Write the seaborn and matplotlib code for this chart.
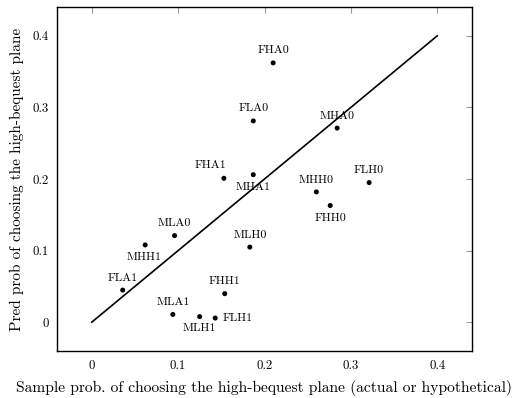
import matplotlib
matplotlib.use("Agg")
import matplotlib.pyplot as plt
import seaborn as sns
import pandas as pd

labels = ["FHA0", "FLA0", "MHA0", "FHA1", "MHA1", "MHH0", "FHH0", "FLH0",
          "MLH0", "MLA0", "MHH1", "FLA1", "FHH1", "MLA1", "MLH1", "FLH1"]
sample_prob = [0.210, 0.187, 0.284, 0.153, 0.187, 0.260, 0.276, 0.321,
               0.183, 0.096, 0.062, 0.036, 0.154, 0.094, 0.125, 0.143]
pred_prob = [0.362, 0.281, 0.271, 0.201, 0.206, 0.182, 0.163, 0.195,
             0.105, 0.121, 0.108, 0.045, 0.040, 0.011, 0.008, 0.006]
diag_x = [0.0, 0.4]
diag_y = [0.0, 0.4]
ticks = [0, 0.1, 0.2, 0.3, 0.4]
tick_labels = ["0", "0.1", "0.2", "0.3", "0.4"]

# label placement (offset in pixels, alignment)
placement = {
    "FHA0": (0, 13, "center"), "FLA0": (0, 13, "center"), "MHA0": (0, 12, "center"),
    "FHA1": (-13, 13, "center"), "MHA1": (0, -13, "center"), "MHH0": (0, 12, "center"),
    "FHH0": (0, -13, "center"), "FLH0": (0, 12, "center"), "MLH0": (0, 12, "center"),
    "MLA0": (0, 12, "center"), "MHH1": (-1, -12, "center"), "FLA1": (0, 12, "center"),
    "FHH1": (0, 12, "center"), "MLA1": (0, 12, "center"), "MLH1": (0, -12, "center"),
    "FLH1": (7, 0, "left"),
}

sns.set_style("white")
plt.rcParams["font.family"] = ["cmr10", "DejaVu Serif"]
plt.rcParams["axes.formatter.use_mathtext"] = True
plt.rcParams["mathtext.fontset"] = "cm"
plt.rcParams["text.color"] = "black"
plt.rcParams["axes.labelcolor"] = "black"
plt.rcParams["xtick.labelcolor"] = "black"
plt.rcParams["ytick.labelcolor"] = "black"

df = pd.DataFrame({"label": labels, "x": sample_prob, "y": pred_prob})
line_df = pd.DataFrame({"x": diag_x, "y": diag_y})

fig = plt.figure(figsize=(5.13, 3.98), dpi=100)
ax = fig.add_axes([57 / 513, 47 / 398, 415 / 513, 344 / 398])

sns.lineplot(data=line_df, x="x", y="y", ax=ax, color="black", linewidth=1.2)
sns.scatterplot(data=df, x="x", y="y", ax=ax, color="black", s=13,
                edgecolor="none", zorder=3)

k = 0.72
for lab, xv, yv in zip(labels, sample_prob, pred_prob):
    dx, dy, ha = placement[lab]
    ax.annotate(lab, (xv, yv), xytext=(dx * k, dy * k), textcoords="offset points",
                ha=ha, va="center", fontsize=8.6, color="black")

ax.set_xlim(-0.04, 0.44)
ax.set_ylim(-0.04, 0.44)
ax.set_xticks(ticks)
ax.set_xticklabels(tick_labels)
ax.set_yticks(ticks)
ax.set_yticklabels(tick_labels)
ax.tick_params(direction="in", length=4, width=0.8, color="#999999",
               top=True, right=True, labelsize=9.2, labelcolor="black")
ax.tick_params(axis="x", pad=6.5)
ax.tick_params(axis="y", pad=6)
for sp in ax.spines.values():
    sp.set_color("black")
    sp.set_linewidth(1.0)
    sp.set_visible(True)

ax.set_xlabel("Sample prob. of choosing the high-bequest plane (actual or hypothetical)",
              fontsize=11.2, labelpad=6)
ax.set_ylabel("Pred prob of choosing the high-bequest plane", fontsize=11, labelpad=6)

fig.savefig("out.png", dpi=100)
